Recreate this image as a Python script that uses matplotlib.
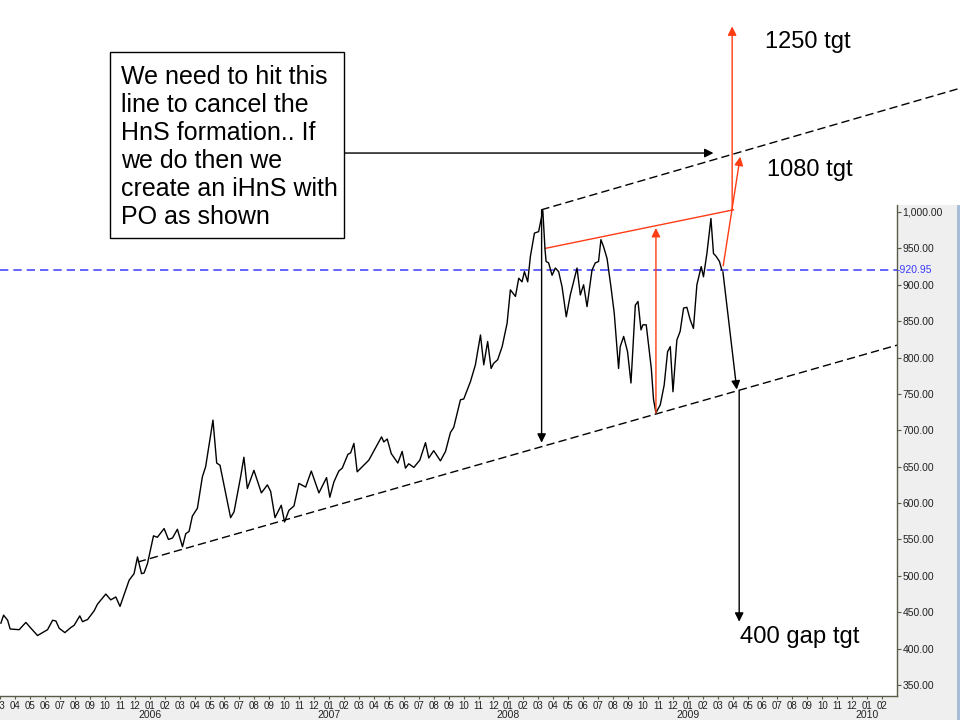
import matplotlib
matplotlib.use("Agg")
import matplotlib.pyplot as plt
from matplotlib.patches import Rectangle
from matplotlib.transforms import blended_transform_factory

plt.rcParams['font.family'] = ['Liberation Sans', 'DejaVu Sans']

# weekly gold close; x is months counted from Jan 2006 (0 = 2006-01)
months = [
    -9.96, -9.78, -9.51, -9.34, -8.74, -8.29, -7.95, -7.51, -6.84, -6.50,
    -6.28, -6.06, -5.68, -5.28, -5.06, -4.68, -4.50, -4.16, -3.72, -3.50,
    -2.94, -2.61, -2.27, -1.99, -1.38, -1.05, -0.82, -0.55, -0.38, -0.15,
    0.25, 0.51, 0.96, 1.25, 1.52, 1.85, 2.19, 2.41, 2.63, 2.85,
    3.19, 3.52, 3.74, 4.23, 4.48, 4.70, 5.41, 5.64, 6.08, 6.30,
    6.53, 6.97, 7.47, 7.87, 8.09, 8.38, 8.80, 9.02, 9.31, 9.65,
    9.98, 10.43, 10.81, 11.32, 11.83, 12.05, 12.32, 12.65, 12.88, 13.26,
    13.44, 13.66, 13.88, 14.22, 14.66, 15.51, 15.66, 15.89, 16.16, 16.60,
    16.89, 17.11, 17.33, 17.67, 18.07, 18.45, 18.67, 19.00, 19.45, 19.79,
    20.12, 20.34, 20.79, 21.01, 21.46, 21.79, 22.13, 22.35, 22.61, 22.84,
    23.01, 23.28, 23.58, 23.91, 24.13, 24.47, 24.69, 24.91, 25.07, 25.29,
    25.47, 25.74, 26.02, 26.30, 26.45, 26.52, 26.69, 26.92, 27.14, 27.36,
    27.59, 27.87, 28.14, 28.59, 28.81, 29.03, 29.26, 29.59, 29.81, 30.03,
    30.19, 30.37, 30.60, 30.86, 31.08, 31.37, 31.48, 31.71, 31.97, 32.20,
    32.49, 32.67, 32.87, 33.00, 33.22, 33.38, 33.56, 33.71, 33.87, 34.16,
    34.42, 34.65, 34.83, 35.01, 35.27, 35.49, 35.72, 35.94, 36.16, 36.38,
    36.61, 36.90, 37.05, 37.28, 37.55, 37.72, 37.90, 38.12, 38.28,
]
price = [
    435, 446, 439, 427, 426, 436, 428, 418, 426, 439,
    438, 428, 422, 429, 432, 445, 437, 440, 452, 461,
    475, 467, 471, 458, 494, 503, 526, 503, 504, 517,
    555, 553, 565, 550, 552, 564, 540, 558, 561, 582,
    593, 636, 650, 714, 655, 652, 580, 588, 636, 663,
    620, 645, 614, 625, 616, 580, 597, 574, 590, 596,
    627, 622, 644, 614, 635, 608, 629, 644, 648, 667,
    669, 682, 643, 650, 659, 691, 684, 688, 668, 655,
    671, 648, 654, 649, 659, 683, 662, 672, 658, 671,
    697, 704, 742, 743, 767, 790, 831, 790, 822, 785,
    792, 797, 815, 847, 893, 884, 909, 904, 918, 904,
    939, 971, 973, 1002, 948, 932, 930, 913, 923, 918,
    897, 856, 886, 923, 886, 900, 870, 920, 930, 932,
    962, 952, 936, 897, 861, 785, 815, 829, 808, 765,
    872, 877, 838, 845, 845, 817, 785, 742, 724, 735,
    762, 808, 815, 753, 824, 836, 868, 869, 852, 840,
    900, 925, 911, 943, 991, 943, 939, 932, 920,
]

last_level = 920.95
y_ticks = [350, 400, 450, 500, 550, 600, 650, 700, 750, 800, 850, 900, 950, 1000]
years = ['2006', '2007', '2008', '2009', '2010']
year_pos = [0, 12, 24, 36, 48]

# trend channel lines (month, price)
upper_x, upper_y = [26.20, 54.21], [1003, 1170]
lower_x, lower_y = [-0.80, 50.0], [519, 817]
neck_x, neck_y = [26.47, 39.06], [950, 1003]

# arrows: (x0, y0, x1, y1, colour)
arrows = [
    (26.22, 1003, 26.22, 683, 'black'),
    (38.35, 918, 39.28, 756, 'black'),
    (39.44, 755, 39.44, 437, 'black'),
    (13.03, 1081, 37.72, 1081, 'black'),
    (33.87, 724, 33.87, 978, '#ff3c14'),
    (38.97, 1003, 38.97, 1255, '#ff3c14'),
    (38.37, 926, 39.51, 1076, '#ff3c14'),
]

W, H = 960, 720
fig = plt.figure(figsize=(9.6, 7.2), dpi=100)
fig.patch.set_facecolor('white')

# grey frame of the charting package
fig.patches.append(Rectangle((897 / W, 0), 63 / W, 515 / H, transform=fig.transFigure,
                             facecolor='#efefef', edgecolor='none', zorder=-2))
fig.patches.append(Rectangle((0, 0), 1, 24 / H, transform=fig.transFigure,
                             facecolor='#efefef', edgecolor='none', zorder=-2))
fig.patches.append(Rectangle((957 / W, 0), 3 / W, 515 / H, transform=fig.transFigure,
                             facecolor='#a9bcd8', edgecolor='none', zorder=-1))

ax = fig.add_axes([0, 24 / H, 897 / W, 491 / H])
ax.set_xlim(-10.02, 50.0)
ax.set_ylim(334.9, 1009.6)

ax.plot(months, price, color='black', lw=1.0, zorder=3)
ax.axhline(last_level, color='#4a4aff', lw=1.2, ls=(0, (5, 3)), zorder=2)

ax.plot(upper_x, upper_y, color='black', lw=1.0, ls=(0, (6, 3)), clip_on=False)
ax.plot(lower_x, lower_y, color='black', lw=1.0, ls=(0, (6, 3)))
ax.plot(neck_x, neck_y, color='#ff3c14', lw=1.0, clip_on=False)

for x0, y0, x1, y1, c in arrows:
    ax.annotate('', xy=(x1, y1), xytext=(x0, y0), annotation_clip=False,
                arrowprops=dict(arrowstyle='-|>', color=c, lw=1.0,
                                mutation_scale=13, shrinkA=0, shrinkB=0))

# axes styling
for s in ['left', 'top']:
    ax.spines[s].set_visible(False)
for s in ['right', 'bottom']:
    ax.spines[s].set_color('#5a5a46')
    ax.spines[s].set_linewidth(1.0)

ax.yaxis.tick_right()
ax.set_yticks(y_ticks)
ax.set_yticklabels(['{:,.2f}'.format(v) for v in y_ticks])
ax.tick_params(axis='y', length=3, pad=1, labelsize=7.5, colors='#5a5a46', labelcolor='#222222')

tr = blended_transform_factory(ax.transAxes, ax.transData)
ax.text(1.0, last_level, '-920.95', transform=tr, ha='left', va='center',
        fontsize=7.5, color='#3a3aff')

month_ticks = list(range(-10, 50))
ax.set_xticks(month_ticks)
ax.set_xticklabels(['%02d' % (m % 12 + 1) for m in month_ticks])
ax.tick_params(axis='x', which='major', length=2.5, pad=1, labelsize=7,
               colors='#5a5a46', labelcolor='#222222')

trx = blended_transform_factory(ax.transData, ax.transAxes)
for yp, yl in zip(year_pos, years):
    ax.text(yp, -19 / 491, yl, transform=trx, ha='center', va='center',
            fontsize=7.5, color='#222222')

# text box and targets
fig.patches.append(Rectangle((110 / W, 1 - 238 / H), 234 / W, 186 / H,
                             transform=fig.transFigure, facecolor='white',
                             edgecolor='black', lw=1.0, zorder=5))
fig.text(121 / W, 1 - 147 / H,
         'We need to hit this\nline to cancel the\nHnS formation.. If\n'
         'we do then we\ncreate an iHnS with\nPO as shown',
         ha='left', va='center', fontsize=18, linespacing=1.22, zorder=6)
fig.text(765 / W, 1 - 42 / H, '1250 tgt', ha='left', va='center', fontsize=17)
fig.text(767 / W, 1 - 170 / H, '1080 tgt', ha='left', va='center', fontsize=17)
fig.text(740 / W, 1 - 637 / H, '400 gap tgt', ha='left', va='center', fontsize=17.2)

fig.savefig('out.png', dpi=100)
